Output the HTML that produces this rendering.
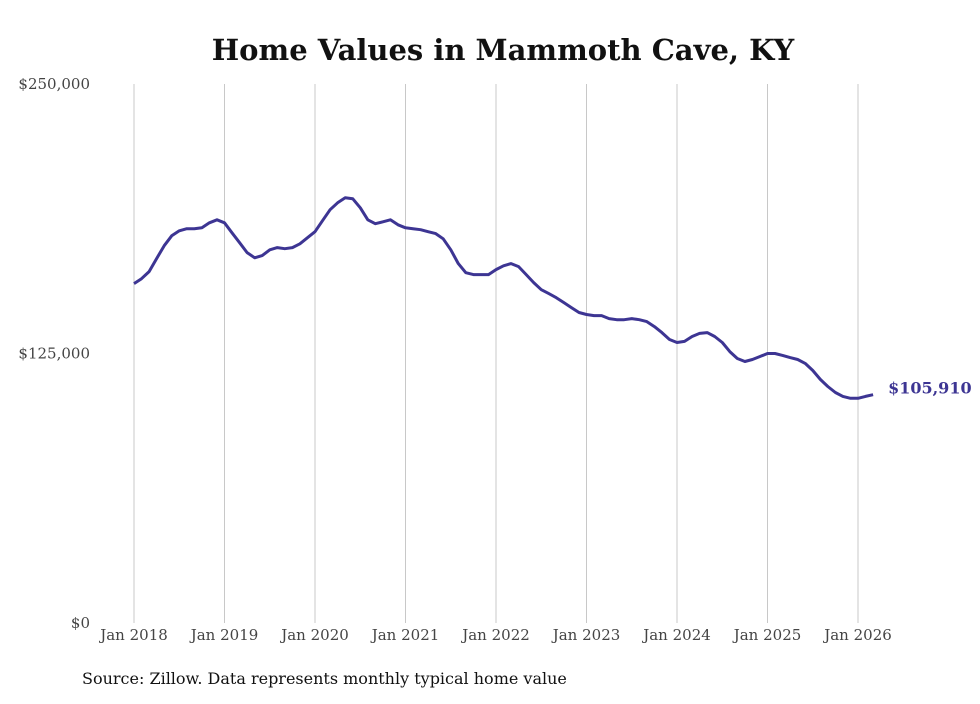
<!DOCTYPE html>
<html><head><meta charset="utf-8"><style>
body{margin:0;background:#fff;width:980px;height:699px;overflow:hidden}
svg text{font-family:"DejaVu Serif","Liberation Serif",serif}
</style></head><body>
<svg id="chart" width="980" height="699" xmlns="http://www.w3.org/2000/svg">
<text x="503" y="60" text-anchor="middle" font-size="29" font-weight="bold" fill="#111">Home Values in Mammoth Cave, KY</text>
<g id="grid"></g><g id="yticks"></g><g id="xticks"></g>
<path id="line" fill="none" stroke="#3d3593" stroke-width="3" stroke-linejoin="round"/>
<text id="endlabel" font-size="16" font-weight="bold" fill="#3d3593"></text>
<text x="82" y="684" font-size="16" fill="#111">Source: Zillow. Data represents monthly typical home value</text>
</svg>
<script>
const startYear = 2018;
const values = [157.4,159.7,163.0,169.0,175.0,179.6,181.9,182.9,182.9,183.3,185.6,187.0,
185.6,181.0,176.4,171.8,169.4,170.4,173.1,174.1,173.6,174.1,175.9,178.7,
181.5,186.6,191.7,194.9,197.2,196.8,192.6,187.0,185.2,186.1,187.0,184.7,
183.3,182.9,182.4,181.5,180.6,178.2,173.1,166.7,162.5,161.6,161.6,161.6,
163.9,165.7,166.7,165.3,161.6,157.9,154.6,152.8,150.9,148.6,146.3,144.0,
143.1,142.6,142.6,141.2,140.7,140.7,141.2,140.7,139.8,137.5,134.7,131.5,
130.1,130.6,132.9,134.3,134.7,132.9,130.1,125.9,122.7,121.3,122.2,123.6,
125.0,125.0,124.1,123.1,122.2,120.4,117.1,113.0,109.7,106.9,105.1,104.2,
104.2,105.1,105.91];
const yTicks = [0,125000,250000];
const yTickLabels = ["$0","$125,000","$250,000"];
const xTickYears = [2018,2019,2020,2021,2022,2023,2024,2025,2026];
const lastLabel = "$105,910";

const NS="http://www.w3.org/2000/svg";
const x = m => 134 + m*(724/96);
const y = v => 623 - v*(539/250000);
const grid=document.getElementById('grid'), yt=document.getElementById('yticks'), xt=document.getElementById('xticks');
yTicks.forEach((t,i)=>{
  const tx=document.createElementNS(NS,'text');
  
  
  tx.setAttribute('x',90);tx.setAttribute('y',y(t)+5);tx.setAttribute('text-anchor','end');
  tx.setAttribute('font-size','15');tx.setAttribute('fill','#444');
  tx.textContent=yTickLabels[i];yt.appendChild(tx);
});
xTickYears.forEach(yr=>{
  const m=(yr-startYear)*12, px=x(m);
  const l=document.createElementNS(NS,'line');
  
  
  l.setAttribute('x1',px);l.setAttribute('x2',px);l.setAttribute('y1',84);l.setAttribute('y2',623);
  l.setAttribute('stroke','#c8c8c8');l.setAttribute('stroke-width','1');grid.appendChild(l);
  const tx=document.createElementNS(NS,'text');
  
  
  tx.setAttribute('x',px);tx.setAttribute('y',640);tx.setAttribute('text-anchor','middle');
  tx.setAttribute('font-size','15');tx.setAttribute('fill','#444');
  tx.textContent='Jan '+yr;xt.appendChild(tx);
});
let d='';
values.forEach((v,i)=>{d+=(i?'L':'M')+x(i).toFixed(1)+','+y(v*1000).toFixed(1);});
document.getElementById('line').setAttribute('d',d);
const el=document.getElementById('endlabel'), li=values.length-1;
el.setAttribute('x',x(li)+15);el.setAttribute('y',y(values[li]*1000)-1);
el.textContent=lastLabel;
</script>
</body></html>
